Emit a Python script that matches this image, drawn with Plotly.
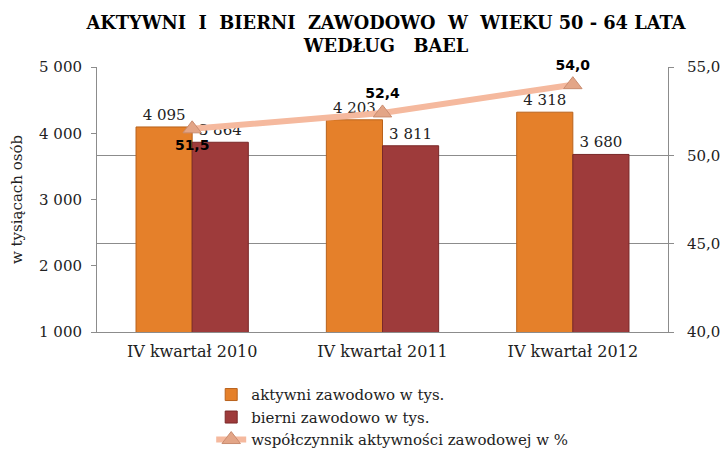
import plotly.graph_objects as go

categories = ["IV kwartał 2010", "IV kwartał 2011", "IV kwartał 2012"]
aktywni = [4095, 4203, 4318]
bierni = [3864, 3811, 3680]
wspolczynnik = [51.5, 52.4, 54.0]

aktywni_labels = ["4 095", "4 203", "4 318"]
bierni_labels = ["3 864", "3 811", "3 680"]
wsp_labels = ["51,5", "52,4", "54,0"]

serif = "DejaVu Serif"
sans = "DejaVu Sans"

fig = go.Figure()
fig.add_trace(go.Bar(
    x=categories, y=aktywni, name="aktywni zawodowo w tys.",
    marker=dict(color="#E5802A", line=dict(color="#B8621C", width=1)),
    text=aktywni_labels, textposition="outside", cliponaxis=False,
    textfont=dict(family=serif, size=15, color="#222222"),
))
fig.add_trace(go.Bar(
    x=categories, y=bierni, name="bierni zawodowo w tys.",
    marker=dict(color="#9E3B3B", line=dict(color="#7A2828", width=1)),
    text=bierni_labels, textposition="outside", cliponaxis=False,
    textfont=dict(family=serif, size=15, color="#222222"),
))
fig.add_trace(go.Scatter(
    x=categories, y=wspolczynnik, name="współczynnik aktywności zawodowej w %",
    yaxis="y2", mode="lines+markers+text",
    line=dict(color="#F5B99E", width=6),
    marker=dict(symbol="triangle-up", size=16, color="#E3A587",
                line=dict(color="#C98C70", width=1)),
    text=wsp_labels, textposition=["bottom center", "top center", "top center"],
    textfont=dict(family=sans, size=14, color="#000000", weight="bold"),
    cliponaxis=False,
))

fig.update_layout(
    width=720, height=444,
    paper_bgcolor="white", plot_bgcolor="white",
    separators=", ",
    margin=dict(l=89, r=60, t=59, b=120, autoexpand=False),
    title=dict(
        text="AKTYWNI  I  BIERNI  ZAWODOWO  W  WIEKU 50 - 64 LATA<br>WEDŁUG   BAEL",
        x=0.525, xanchor="center", yref="container", y=0.953, yanchor="top",
        font=dict(family=serif, size=17.8, color="#000000", weight="bold"),
    ),
    barmode="group", bargap=0.41, bargroupgap=0,
    showlegend=True,
    legend=dict(
        x=0.2, xanchor="left", yref="container", y=0.166, yanchor="top",
        orientation="v", font=dict(family=serif, size=15, color="#222222"),
        tracegroupgap=0, itemwidth=30,
    ),
    xaxis=dict(
        showgrid=False, showline=True, linecolor="#8c8c8c",
        tickfont=dict(family=serif, size=16, color="#222222"),
        ticks="", ticklabelstandoff=5,
    ),
    yaxis=dict(
        range=[1000, 5000], dtick=1000, tickformat=",d",
        showgrid=False, showline=True, linecolor="#8c8c8c",
        ticks="outside", ticklen=5, tickcolor="#8c8c8c",
        ticklabelstandoff=6,
        tickfont=dict(family=serif, size=15, color="#222222"),
        title=dict(text="w tysiącach osób", font=dict(family=serif, size=15, color="#222222"), standoff=24),
    ),
    yaxis2=dict(
        range=[40, 55], dtick=5, tickformat=".1f",
        overlaying="y", side="right",
        showgrid=True, gridcolor="#8c8c8c", gridwidth=1,
        showline=True, linecolor="#8c8c8c",
        ticks="outside", ticklen=5, tickcolor="#8c8c8c",
        ticklabelstandoff=10,
        tickfont=dict(family=serif, size=15, color="#222222"),
        zeroline=False,
    ),
)

fig.write_html("out.html")
